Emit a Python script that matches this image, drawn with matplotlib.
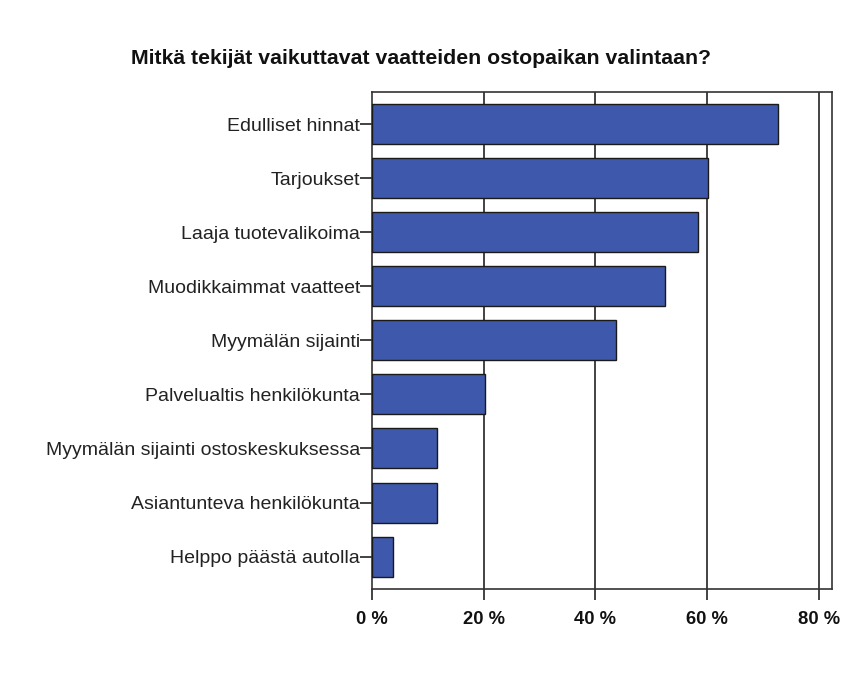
import matplotlib
matplotlib.use("Agg")
import matplotlib.pyplot as plt

plt.rcParams['font.family'] = ['Liberation Sans', 'DejaVu Sans']

categories = [
    "Edulliset hinnat",
    "Tarjoukset",
    "Laaja tuotevalikoima",
    "Muodikkaimmat vaatteet",
    "Myymälän sijainti",
    "Palvelualtis henkilökunta",
    "Myymälän sijainti ostoskeskuksessa",
    "Asiantunteva henkilökunta",
    "Helppo päästä autolla",
]
values = [72.7, 60.1, 58.3, 52.4, 43.6, 20.3, 11.6, 11.6, 3.8]
xticks = [0, 20, 40, 60, 80]
xtick_labels = ["0 %", "20 %", "40 %", "60 %", "80 %"]
title = "Mitkä tekijät vaikuttavat vaatteiden ostopaikan valintaan?"

fig = plt.figure(figsize=(8.42, 6.73), dpi=100)
ax = fig.add_axes([0.4418, 0.1248, 0.5460, 0.7389])

pos = list(range(len(categories)))
ax.barh(pos, values, height=0.74, color="#3E59AC", edgecolor="#1a1a1a",
        linewidth=1.0, zorder=3)
ax.set_ylim(len(categories) - 0.4, -0.6)
ax.set_xlim(0, 82.3)

ax.set_yticks(pos)
ax.set_yticklabels(categories, fontsize=14, color="#222222")
ax.set_xticks(xticks)
ax.set_xticklabels(xtick_labels, fontsize=13.2, fontweight="bold", color="#111111")

for x in xticks[1:]:
    ax.axvline(x, color="#222222", linewidth=1.2, zorder=1)

for s in ax.spines.values():
    s.set_color("#333333")
    s.set_linewidth(1.2)

ax.tick_params(axis="y", length=8.6, width=1.2, color="#222222", pad=0)
ax.tick_params(axis="x", length=8, width=1.2, color="#222222", pad=8)

fig.text(0.5, 0.913, title, ha="center", va="center", fontsize=15.3,
         fontweight="bold", color="#111111")

fig.savefig("out.png", dpi=100, facecolor="white")
